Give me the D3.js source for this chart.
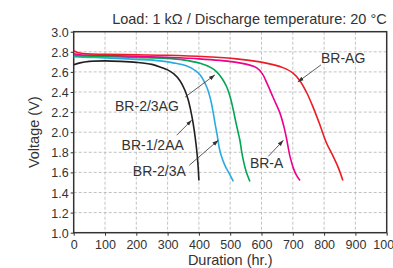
<!DOCTYPE html>
<html><head><meta charset="utf-8">
<script src="https://cdn.jsdelivr.net/npm/d3@7/dist/d3.min.js"></script>
<style>
html,body{margin:0;padding:0;background:#fff;}
svg{display:block;font-family:"Liberation Sans",Arial,sans-serif;}
</style></head><body>
<svg id="c" width="393" height="268"></svg>
<script>
const xTicks = [0,100,200,300,400,500,600,700,800,900,1000];
const yTicks = [1.0,1.2,1.4,1.6,1.8,2.0,2.2,2.4,2.6,2.8,3.0];
const seriesNames = ["BR-1/2AA","BR-2/3A","BR-2/3AG","BR-A","BR-AG"];
const seriesColors = ["#231f20","#29abe2","#00a651","#ec008c","#ed1c24"];
const black = [[0,2.67],[20,2.69],[50,2.705],[100,2.71],[150,2.705],[200,2.695],[250,2.675],[280,2.645],[300,2.62],[320,2.58],[340,2.51],[355,2.42],[366,2.32],[375,2.2],[382,2.08],[388,1.95],[393,1.82],[397,1.68],[400,1.52]];
const blue = [[0,2.75],[50,2.745],[100,2.74],[200,2.725],[276,2.71],[318,2.69],[360,2.66],[390,2.61],[404,2.57],[425,2.45],[437,2.33],[446,2.19],[452,2.08],[458,1.98],[464,1.86],[470,1.78],[483,1.67],[495,1.60],[510,1.51]];
const green = [[0,2.76],[100,2.755],[200,2.745],[297,2.735],[350,2.72],[404,2.685],[440,2.64],[457,2.60],[475,2.53],[489,2.45],[500,2.35],[510,2.22],[518,2.1],[526,1.99],[531,1.92],[536,1.82],[542,1.72],[550,1.62],[563,1.51]];
const magenta = [[0,2.78],[20,2.77],[100,2.765],[200,2.755],[300,2.745],[400,2.73],[510,2.70],[560,2.67],[585,2.64],[603,2.58],[617,2.49],[638,2.34],[659,2.19],[672,2.05],[681,1.92],[691,1.76],[702,1.64],[712,1.57],[723,1.52]];
const red = [[0,2.81],[15,2.79],[40,2.78],[100,2.775],[200,2.77],[300,2.765],[425,2.75],[520,2.73],[595,2.70],[640,2.67],[670,2.64],[700,2.59],[723,2.51],[745,2.39],[766,2.24],[787,2.07],[808,1.89],[829,1.76],[845,1.65],[860,1.52]];
const seriesData = [black, blue, green, magenta, red];
// annotation: [label, textX(hr), textY(V), arrowFromX, arrowFromY, arrowToX, arrowToY]
const annotations = [
  ["BR-AG", 790, 2.69, 790, 2.67, 716, 2.50],
  ["BR-2/3AG", 132, 2.21, 356, 2.35, 451, 2.57],
  ["BR-1/2AA", 153, 1.82, 329, 1.97, 377, 2.12],
  ["BR-2/3A", 189, 1.56, 369, 1.67, 462, 1.92],
  ["BR-A", 563, 1.64, 622, 1.76, 670, 1.92]
];
const title = "Load: 1 kΩ / Discharge temperature: 20 °C";
const xLabel = "Duration (hr.)";
const yLabel = "Voltage (V)";

const svg = d3.select("#c");
const L = 73.7, R = 386.7, T = 31.7, B = 232.7;
const x = d3.scaleLinear().domain([0,1000]).range([L,R]);
const y = d3.scaleLinear().domain([1,3]).range([B,T]);
const ink = "#333";
const narrow = "'Liberation Sans Narrow','Arial Narrow',sans-serif";

// grid
const g = svg.append("g");
g.selectAll(".gx").data(xTicks.slice(1,-1)).enter().append("line")
  .attr("x1",d=>x(d)).attr("x2",d=>x(d)).attr("y1",T).attr("y2",B)
  .attr("stroke","#b3b3b3").attr("stroke-width",0.8).attr("stroke-dasharray","3,2");
g.selectAll(".gy").data(yTicks.slice(1,-1)).enter().append("line")
  .attr("y1",d=>y(d)).attr("y2",d=>y(d)).attr("x1",L).attr("x2",R)
  .attr("stroke","#b3b3b3").attr("stroke-width",0.8).attr("stroke-dasharray","3,2");

// axes
const xAxis = d3.axisBottom(x).tickValues(xTicks).tickFormat(d3.format("d")).tickSize(3).tickSizeOuter(0);
const yAxis = d3.axisLeft(y).tickValues(yTicks).tickFormat(d3.format(".1f")).tickSize(3).tickSizeOuter(0);
const gx = svg.append("g").attr("transform",`translate(0,${B})`).call(xAxis);
const gy = svg.append("g").attr("transform",`translate(${L},0)`).call(yAxis);
[gx,gy].forEach(a=>{
  a.select(".domain").remove();
  a.selectAll("line").attr("stroke",ink);
  a.selectAll("text").attr("fill",ink).attr("font-size","12.5px").attr("font-family","'Liberation Sans',Arial,sans-serif");
});
gx.selectAll("text").attr("dy","0.95em").attr("y",4);
gy.selectAll("text").attr("x",-5).attr("dy","0.36em");

// frame
svg.append("rect").attr("x",L).attr("y",T).attr("width",R-L).attr("height",B-T)
  .attr("fill","none").attr("stroke",ink).attr("stroke-width",1.5);

// lines
const line = d3.line().x(d=>x(d[0])).y(d=>y(d[1])).curve(d3.curveCatmullRom.alpha(0.5));
svg.append("g").selectAll("path").data(seriesData).enter().append("path")
  .attr("d",line).attr("fill","none")
  .attr("stroke",(d,i)=>seriesColors[i]).attr("stroke-width",1.6);

// arrows
svg.append("defs").append("marker").attr("id","ah").attr("viewBox","0 0 10 10")
  .attr("refX",10).attr("refY",5).attr("markerWidth",6).attr("markerHeight",6)
  .attr("orient","auto").attr("markerUnits","userSpaceOnUse")
  .append("path").attr("d","M0,1.5 L10,5 L0,8.5 Z").attr("fill",ink);
const ag = svg.append("g");
annotations.forEach(a=>{
  ag.append("line").attr("x1",x(a[3])).attr("y1",y(a[4])).attr("x2",x(a[5])).attr("y2",y(a[6]))
    .attr("stroke",ink).attr("stroke-width",0.8).attr("marker-end","url(#ah)");
  ag.append("text").attr("x",x(a[1])).attr("y",y(a[2])).text(a[0])
    .attr("font-size","14px").attr("fill",ink);
});

// titles
svg.append("text").attr("x",R).attr("y",24).attr("text-anchor","end")
  .attr("font-family",narrow).attr("font-size","14.5px").attr("fill",ink).text(title);
svg.append("text").attr("x",(L+R)/2).attr("y",265).attr("text-anchor","middle")
  .attr("font-family",narrow).attr("font-size","14.5px").attr("fill",ink).text(xLabel);
svg.append("text").attr("transform",`translate(39,${(T+B)/2}) rotate(-90)`).attr("text-anchor","middle")
  .attr("font-family",narrow).attr("font-size","14.5px").attr("fill",ink).text(yLabel);
</script></body></html>
